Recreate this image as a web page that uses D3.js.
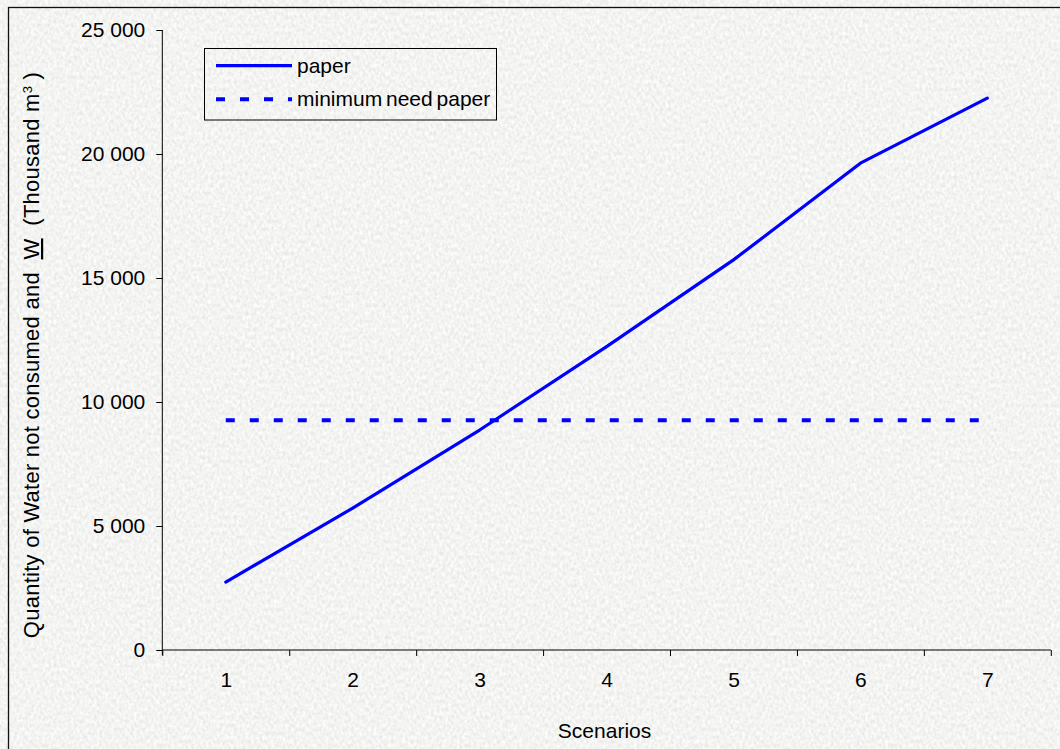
<!DOCTYPE html>
<html>
<head>
<meta charset="utf-8">
<script src="https://cdn.jsdelivr.net/npm/d3@7"></script>
<style>
html, body { margin: 0; padding: 0; background: #e9e9e7; overflow: hidden; }
svg { display: block; }
text { font-family: "Liberation Sans", Arial, sans-serif; fill: #000; }
</style>
</head>
<body>
<svg id="chart" width="1060" height="749"></svg>
<script>
// ---- data ----
const scenarios = [1, 2, 3, 4, 5, 6, 7];
const paperValues = [2740, 5720, 8870, 12230, 15730, 19630, 22250];
const minimumNeedPaper = [9260, 9260, 9260, 9260, 9260, 9260, 9260];
const yTicks = [0, 5000, 10000, 15000, 20000, 25000];
const seriesNames = ["paper", "minimum need paper"];
const xTitle = "Scenarios";

// ---- layout ----
const W = 1060, H = 749;
const plot = { left: 162.3, right: 1050.8, top: 30, bottom: 650 };
const FS = 21, LS = "0px";
const blue = "#0000ff";

const svg = d3.select("#chart");

// textured background
const defs = svg.append("defs");
const f = defs.append("filter").attr("id", "granite")
  .attr("x", 0).attr("y", 0).attr("width", W).attr("height", H)
  .attr("filterUnits", "userSpaceOnUse");
f.append("feTurbulence").attr("type", "fractalNoise")
  .attr("baseFrequency", "0.35 0.25").attr("numOctaves", 3).attr("seed", 7).attr("result", "n");
f.append("feColorMatrix").attr("type", "matrix")
  .attr("values", "0.3 0 0 0 0.75  0.3 0 0 0 0.75  0.29 0 0 0 0.745  0 0 0 0 1");
svg.append("rect").attr("x", 0).attr("y", 0).attr("width", W).attr("height", H)
  .attr("filter", "url(#granite)");

// outer border (cropped on right and bottom)
svg.append("rect").attr("x", 8.5).attr("y", 7.5).attr("width", 1100).attr("height", 800)
  .attr("fill", "none").attr("stroke", "#111").attr("stroke-width", 1.3);

// scales
const x = d3.scaleLinear().domain([0.5, 7.5]).range([plot.left, plot.right]);
const y = d3.scaleLinear().domain([0, 25000]).range([plot.bottom, plot.top]);

const fmt = d => d === 0 ? "0" : d3.format(",")(d).replace(/,/g, " ");

// y axis
const gy = svg.append("g").attr("transform", `translate(${plot.left},0)`)
  .call(d3.axisLeft(y).tickValues(yTicks).tickSize(6).tickPadding(11).tickFormat(fmt));
gy.select(".domain").attr("stroke", "#000").attr("d", `M0,${plot.top}V${plot.bottom + 5}`);
gy.selectAll(".tick line").attr("stroke", "#000");
gy.selectAll(".tick text").style("font-size", FS + "px").style("letter-spacing", LS)
  .attr("font-family", null).attr("fill", "#000");

// x axis: ticks at category boundaries
const gx = svg.append("g").attr("transform", `translate(0,${plot.bottom})`)
  .call(d3.axisBottom(x).tickValues(d3.range(0.5, 8, 1)).tickSize(6).tickFormat(""));
gx.select(".domain").attr("stroke", "#000").attr("d", `M${plot.left},0H${plot.right}`);
gx.selectAll(".tick line").attr("stroke", "#000");

// x labels at category centres
const gxl = svg.append("g").attr("transform", `translate(0,${plot.bottom})`)
  .call(d3.axisBottom(x).tickValues(scenarios).tickSize(0).tickPadding(22).tickFormat(d3.format("d")));
gxl.select(".domain").remove();
gxl.selectAll(".tick text").style("font-size", FS + "px").style("letter-spacing", LS)
  .attr("font-family", null).attr("fill", "#000");

// lines
const line = d3.line().x((d, i) => x(scenarios[i])).y(d => y(d));
svg.append("path").datum(minimumNeedPaper).attr("d", line)
  .attr("fill", "none").attr("stroke", blue).attr("stroke-width", 4)
  .attr("stroke-dasharray", "9,15");
svg.append("path").datum(paperValues).attr("d", line)
  .attr("fill", "none").attr("stroke", blue).attr("stroke-width", 3.2)
  .attr("stroke-linejoin", "round").attr("stroke-linecap", "round");

// legend
const lg = svg.append("g");
lg.append("rect").attr("x", 204.5).attr("y", 48.5).attr("width", 292).attr("height", 71.5)
  .attr("fill", "none").attr("stroke", "#000").attr("stroke-width", 1);
const legendRows = [
  { name: seriesNames[0], dash: null, w: 3.2, yy: 65.7 },
  { name: seriesNames[1], dash: "9,15", w: 4, yy: 99.3 }
];
legendRows.forEach(r => {
  const l = lg.append("line").attr("x1", 216).attr("x2", 292).attr("y1", r.yy).attr("y2", r.yy)
    .attr("stroke", blue).attr("stroke-width", r.w);
  if (r.dash) l.attr("stroke-dasharray", r.dash);
  lg.append("text").attr("x", 297).attr("y", r.yy).attr("dy", "0.33em")
    .style("font-size", FS + "px").style("letter-spacing", LS).style("word-spacing", "-2px").text(r.name);
});

// axis titles
svg.append("text").attr("x", (plot.left + plot.right) / 2 - 2).attr("y", 738)
  .attr("text-anchor", "middle").style("font-size", FS + "px").style("letter-spacing", LS)
  .text(xTitle);

const yt = svg.append("text").attr("transform", "translate(39,355) rotate(-90)")
  .attr("text-anchor", "middle").style("font-size", "22px").style("letter-spacing", "0.25px")
  .style("white-space", "pre");
yt.append("tspan").text("Quantity of Water not consumed and  ");
yt.append("tspan").style("text-decoration", "underline").text("W");
yt.append("tspan").text("  (Thousand m");
yt.append("tspan").attr("baseline-shift", "super").style("font-size", "13px").text("3");
yt.append("tspan").text(" )");
</script>
</body>
</html>
